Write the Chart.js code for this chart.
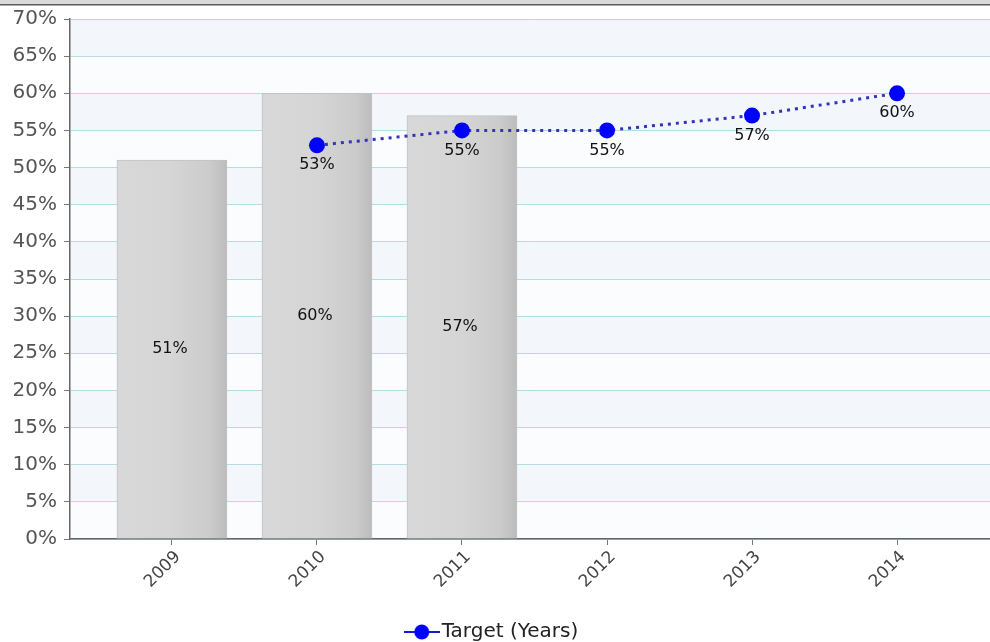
<!DOCTYPE html>
<html>
<head>
<meta charset="utf-8">
<script src="https://cdn.jsdelivr.net/npm/chart.js@4/dist/chart.umd.min.js"></script>
<style>
  html, body { margin: 0; padding: 0; background: #fff; }
  #wrap { width: 990px; height: 642px; position: relative; }
</style>
</head>
<body>
<div id="wrap"><canvas id="c" width="990" height="642"></canvas></div>
<script>
const years = ['2009', '2010', '2011', '2012', '2013', '2014'];
const actual = [51, 60, 57, null, null, null];
const target = [null, 53, 55, 55, 57, 60];
const yTicks = [0, 5, 10, 15, 20, 25, 30, 35, 40, 45, 50, 55, 60, 65, 70];

const FONT = "'DejaVu Sans', sans-serif";

// points for the linear x axis, built from the arrays above
const toPoints = arr => arr.map((v, i) => (v == null ? null : { x: i, y: v })).filter(p => p);

// legend icon: line with a dot on it
const icon = document.createElement('canvas');
icon.width = 36; icon.height = 18;
(function () {
  const g = icon.getContext('2d');
  g.strokeStyle = '#1a1ad0';
  g.lineWidth = 2;
  g.beginPath(); g.moveTo(0, 9); g.lineTo(36, 9); g.stroke();
  g.fillStyle = '#0000ff';
  g.beginPath(); g.arc(18, 9, 7.5, 0, Math.PI * 2); g.fill();
})();

const chrome = {
  id: 'chrome',
  beforeDraw(chart) {
    const { ctx, chartArea: a, scales: { y } } = chart;
    ctx.save();
    // window strip on top
    ctx.fillStyle = '#dadada';
    ctx.fillRect(0, 0, chart.width, 4);
    ctx.fillStyle = '#5a5a5a';
    ctx.fillRect(0, 4, chart.width, 1.5);
    // alternating bands
    for (let i = 0; i < yTicks.length - 1; i++) {
      const top = y.getPixelForValue(yTicks[i + 1]);
      const bot = y.getPixelForValue(yTicks[i]);
      ctx.fillStyle = i % 2 ? '#f3f6fb' : '#fbfcfe';
      ctx.fillRect(a.left, top, a.right - a.left, bot - top);
    }
    ctx.restore();
  },
  afterDatasetsDraw(chart) {
    const { ctx } = chart;
    ctx.save();
    ctx.font = '16px ' + FONT;
    ctx.fillStyle = '#111';
    ctx.textAlign = 'center';
    ctx.textBaseline = 'middle';
    chart.data.datasets.forEach((ds, di) => {
      const meta = chart.getDatasetMeta(di);
      meta.data.forEach((el, i) => {
        const v = ds.data[i].y;
        if (ds.type === 'bar') {
          ctx.fillText(v + '%', el.x - 2, (el.y + el.base) / 2);
        } else {
          ctx.fillText(v + '%', el.x, el.y + 20);
        }
      });
    });
    ctx.restore();
  }
};

function barFill(context) {
  const chart = context.chart;
  if (!chart.chartArea || !chart.scales.x || context.raw == null) return '#d4d4d4';
  const cx = chart.scales.x.getPixelForValue(context.raw.x);
  const g = chart.ctx.createLinearGradient(cx - 55, 0, cx + 55, 0);
  g.addColorStop(0, '#d8d8d8');
  g.addColorStop(0.5, '#d5d5d5');
  g.addColorStop(0.85, '#cbcbcb');
  g.addColorStop(1, '#bcbcbc');
  return g;
}

new Chart(document.getElementById('c'), {
  data: {
    datasets: [
      {
        type: 'line',
        label: 'Target (Years)',
        data: toPoints(target),
        order: 0,
        borderColor: '#3434b8',
        borderWidth: 3,
        borderDash: [3, 5],
        pointRadius: 8,
        pointBackgroundColor: '#0000ff',
        pointBorderColor: '#0000ff',
        pointBorderWidth: 0,
        fill: false,
        tension: 0
      },
      {
        type: 'bar',
        label: 'Actual',
        data: toPoints(actual),
        order: 1,
        backgroundColor: barFill,
        borderColor: '#c2c2c2',
        borderWidth: 1,
        barThickness: 110
      }
    ]
  },
  options: {
    responsive: false,
    animation: false,
    layout: { autoPadding: false, padding: { top: 19, right: 0, left: 0, bottom: -10 } },
    plugins: {
      tooltip: { enabled: false },
      legend: {
        position: 'bottom',
        labels: {
          usePointStyle: true,
          padding: 4,
          color: '#222',
          font: { family: FONT, size: 20 },
          filter: item => item.datasetIndex === 0,
          generateLabels(chart) {
            const items = Chart.defaults.plugins.legend.labels.generateLabels(chart);
            items.forEach(it => { it.pointStyle = icon; });
            return items;
          }
        }
      }
    },
    scales: {
      x: {
        type: 'linear',
        offset: false,
        min: -0.703,
        max: 5.641,
        afterBuildTicks(scale) { scale.ticks = years.map((_, i) => ({ value: i })); },
        afterFit(scale) { scale.height = 79; scale.paddingRight = 0; },
        grid: { offset: false, drawOnChartArea: false, drawTicks: true, tickLength: 6, color: '#777' },
        border: { color: '#666', width: 1.5 },
        ticks: {
          autoSkip: false,
          minRotation: 45,
          maxRotation: 45,
          padding: 2,
          labelOffset: 6,
          color: '#444',
          font: { family: FONT, size: 17 },
          callback: v => years[v] ?? ''
        }
      },
      y: {
        min: 0,
        max: 70,
        afterFit(scale) { scale.width = 70; },
        grid: { color: '#b3dde0', lineWidth: 1, tickLength: 6, tickColor: '#777' },
        border: { color: '#666', width: 1.5 },
        ticks: {
          stepSize: 5,
          padding: 7,
          color: '#555',
          font: { family: FONT, size: 20 },
          callback: v => v + '%'
        }
      }
    }
  },
  plugins: [chrome]
});
</script>
</body>
</html>
